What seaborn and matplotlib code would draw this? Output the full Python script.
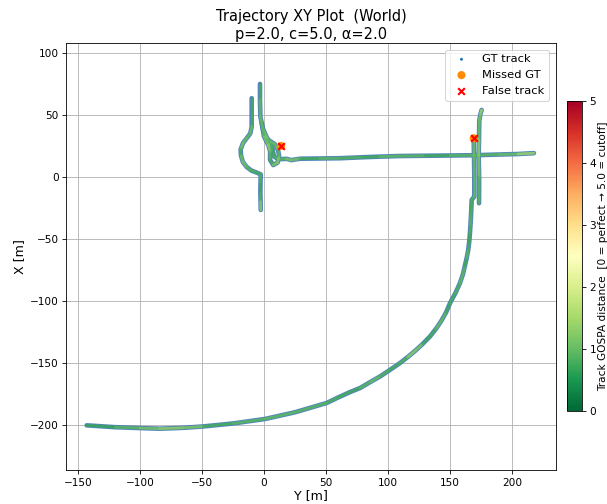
import numpy as np
import pandas as pd
import matplotlib
matplotlib.use("Agg")
import matplotlib.pyplot as plt
import seaborn as sns
from matplotlib.collections import LineCollection
from matplotlib.colors import Normalize
from matplotlib.cm import ScalarMappable

# ---------------- data (plot x = world Y, plot y = world X) ----------------
trk1_Y = [-9.9, -9.9, -9.9, -11.0, -14.0, -17.0, -18.8, -18.5, -17.0, -14.0, -10.0, -6.0,
          -2.6, -2.8, -2.9, -2.7, -2.6]
trk1_X = [63.3, 52.0, 40.5, 35.0, 31.0, 27.0, 22.0, 17.0, 12.0, 8.0, 5.0, 3.5,
          2.0, -6.0, -13.2, -20.0, -26.6]
trk1_d = [0.8, 0.7, 0.9, 1.1, 0.8, 1.3, 0.9, 0.7, 1.4, 0.8, 1.0, 0.7,
          0.9, 0.8, 0.7, 1.0, 1.5]

trk2_Y = [-3.2, -3.2, -2.9, -1.0, 2.2, 5.4, 7.0, 8.1, 11.6, 18.3, 22.0, 29.1, 45.0, 61.3,
          80.0, 93.6, 110.0, 130.0, 150.0, 169.0, 190.0, 205.0, 217.8]
trk2_X = [74.8, 61.9, 48.5, 39.2, 31.9, 27.1, 21.7, 16.4, 14.2, 14.5, 13.5, 14.6, 14.8, 15.0,
          15.8, 16.3, 16.8, 17.0, 17.2, 17.4, 18.0, 18.4, 19.1]
trk2_d = [0.9, 0.7, 1.2, 0.8, 1.4, 0.9, 0.8, 0.7, 1.0, 0.8, 1.5, 0.7, 0.8, 1.0,
          0.7, 0.8, 1.1, 0.7, 0.8, 1.0, 0.8, 1.2, 1.6]

trk3_Y = [-1.8, 0.0, 3.5, 5.0, 4.9, 7.5, 11.0, 12.2, 11.2, 8.5, 5.4, 2.5]
trk3_X = [43.2, 32.5, 25.7, 20.4, 13.7, 9.5, 11.5, 17.0, 22.5, 26.5, 28.5, 30.0]
trk3_d = [1.0, 0.8, 1.5, 1.1, 0.7, 0.9, 1.4, 1.0, 0.8, 1.2, 0.9, 1.0]

trk4_Y = [10.3, 13.8]
trk4_X = [23.1, 24.9]
trk4_d = [1.0, 1.3]

trk5_Y = [-143.0, -120.0, -100.0, -84.0, -65.0, -49.0, -25.0, 0.8, 25.0, 50.6, 60.0, 70.0,
          77.5, 86.0, 93.6, 101.5, 109.7, 116.0, 122.0, 128.0, 133.9, 139.0, 143.0, 147.0,
          150.1, 154.5, 158.1, 160.5, 162.0, 163.6, 164.8, 165.6, 166.2, 166.6, 167.0, 167.3,
          167.6, 169.7, 169.7, 169.5, 169.2]
trk5_X = [-200.0, -201.5, -202.2, -202.7, -202.0, -200.9, -198.5, -194.9, -189.5, -182.0,
          -177.5, -173.0, -170.0, -165.0, -160.7, -155.5, -149.9, -145.0, -140.0, -134.5,
          -128.5, -122.0, -116.0, -109.0, -101.6, -93.5, -85.5, -78.5, -72.0, -65.0, -58.7,
          -52.0, -45.0, -38.5, -32.0, -25.0, -18.5, -15.8, 0.0, 15.0, 31.1]
trk5_d = [0.6, 0.8, 1.0, 1.2, 1.4, 0.9, 0.7, 1.1, 0.8, 1.0, 0.7, 0.9,
          0.6, 1.2, 0.8, 0.9, 0.7, 1.0, 1.5, 0.8, 0.7, 0.9, 1.1, 0.8,
          0.7, 0.9, 0.8, 1.1, 0.7, 0.8, 1.0, 0.6, 0.9, 0.8, 1.0, 0.7,
          0.9, 0.8, 1.1, 0.8, 1.2]

trk6_Y = [175.6, 174.5, 173.7, 173.5, 173.2, 173.6, 173.5]
trk6_X = [53.9, 50.0, 45.0, 30.0, 17.0, 0.0, -21.2]
trk6_d = [1.6, 1.3, 0.9, 1.1, 1.5, 0.8, 1.0]

missed_Y = [13.8, 169.2]
missed_X = [24.9, 31.1]
false_Y = [13.8, 169.2]
false_X = [24.9, 31.1]

x_ticks = [-150, -100, -50, 0, 50, 100, 150, 200]
y_ticks = [-200, -150, -100, -50, 0, 50, 100]
cbar_ticks = [0, 1, 2, 3, 4, 5]

tracks = [(trk1_Y, trk1_X, trk1_d), (trk2_Y, trk2_X, trk2_d), (trk3_Y, trk3_X, trk3_d),
          (trk4_Y, trk4_X, trk4_d), (trk5_Y, trk5_X, trk5_d), (trk6_Y, trk6_X, trk6_d)]

# ---------------- figure ----------------
DPI = 75.5
fig = plt.figure(figsize=(607 / DPI, 504 / DPI), dpi=DPI)
ax = fig.add_axes([66 / 607, 1 - 470.3 / 504, 490 / 607, 427.6 / 504])
cax = fig.add_axes([566.7 / 607, 1 - 411 / 504, 15.6 / 607, 310 / 504])

cmap = plt.get_cmap("RdYlGn_r")
norm = Normalize(vmin=0, vmax=5)

all_Y = sum([t[0] for t in tracks], [])
all_X = sum([t[1] for t in tracks], [])
sns.scatterplot(x=all_Y, y=all_X, ax=ax, color="tab:blue", s=8, edgecolor="none",
                label="GT track", zorder=2)

for Y, X, d in tracks:
    sns.lineplot(x=Y, y=X, ax=ax, sort=False, estimator=None, color="#4a80b6",
                 lw=4.4, alpha=0.95, legend=False, zorder=2, solid_capstyle="round",
                 solid_joinstyle="round")
    pts = np.column_stack([Y, X])
    segs = np.stack([pts[:-1], pts[1:]], axis=1)
    dv = np.asarray(d)
    seg_val = 0.5 * (dv[:-1] + dv[1:])
    lc = LineCollection(segs, colors=cmap(norm(seg_val)), linewidths=2.6, alpha=0.85,
                        zorder=3, capstyle="round", joinstyle="round")
    ax.add_collection(lc)

sns.scatterplot(x=missed_Y, y=missed_X, ax=ax, color="darkorange", s=60, edgecolor="none",
                label="Missed GT", zorder=4)
ax.scatter(false_Y, false_X, color="red", marker="x", s=40, linewidths=2,
           label="False track", zorder=5)

ax.set_xlim(-159.7, 235.6)
ax.set_ylim(-236.2, 108.0)
ax.set_xticks(x_ticks)
ax.set_yticks(y_ticks)
ax.grid(True, color="#b0b0b0", lw=0.8)
ax.set_axisbelow(True)
ax.set_xlabel("Y [m]", fontsize=12, labelpad=1)
ax.set_ylabel("X [m]", fontsize=12)
ax.set_title("Trajectory XY Plot  (World)\np=2.0, c=5.0, α=2.0", fontsize=14, pad=4)
ax.tick_params(labelsize=10)
ax.legend(loc="upper right", fontsize=11, markerscale=1.0, borderaxespad=0.6)

cb = fig.colorbar(ScalarMappable(norm=norm, cmap=cmap), cax=cax, ticks=cbar_ticks)
cb.set_label("Track GOSPA distance  [0 = perfect → 5.0 = cutoff]", fontsize=10, labelpad=2)
cb.ax.tick_params(labelsize=10)

fig.savefig("out.png", dpi=DPI)
